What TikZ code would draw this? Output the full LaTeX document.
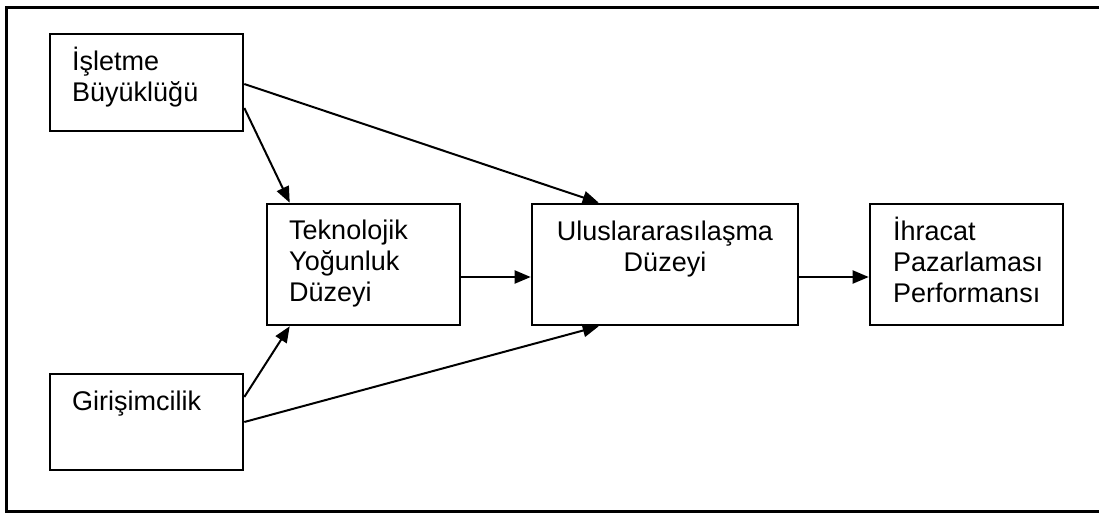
\documentclass[tikz,border=0pt]{standalone}
\usepackage{fontspec}
\setmainfont{Liberation Sans}
\usetikzlibrary{arrows.meta}
\begin{document}
\begin{tikzpicture}[x=1pt,y=-1pt,
  box/.style={draw, line width=2.6pt, inner sep=0pt, minimum width=193pt, minimum height=121pt},
  label/.style={inner sep=0pt, font=\fontsize{27}{31}\selectfont},
  link/.style={line width=2pt, -{Triangle[length=16pt,width=13pt]}}]
  \useasboundingbox (0,0) rectangle (1099,514);
  % outer frame (its right side lies beyond the page)
  \draw[line width=3pt] (6,7) rectangle (1120,511);

  % boxes
  \node[box, minimum height=97pt] (b1) at (146.5,82.5) {};
  \node[box] (b2) at (363.5,264.5) {};
  \node[box, minimum width=266pt] (b3) at (665,264.5) {};
  \node[box] (b4) at (966.5,264.5) {};
  \node[box, minimum height=96pt] (b5) at (146.5,422) {};

  % texts
  \node[label, anchor=base west] (t1) at (72,70)
    {\begin{tabular}[t]{@{}l@{}}İşletme\\Büyüklüğü\end{tabular}};
  \node[label, anchor=base west] (t2) at (289,239)
    {\begin{tabular}[t]{@{}l@{}}Teknolojik\\Yoğunluk\\Düzeyi\end{tabular}};
  \node[label, anchor=base] (t3) at (665,240)
    {\begin{tabular}[t]{@{}c@{}}Uluslararasılaşma\\Düzeyi\end{tabular}};
  \node[label, anchor=base west] (t4) at (893,240)
    {\begin{tabular}[t]{@{}l@{}}İhracat\\Pazarlaması\\Performansı\end{tabular}};
  \node[label, anchor=base west] (t5) at (72,410) {Girişimcilik};

  % connectors (yshift is in page direction: negative moves down)
  \draw[link] ([yshift=-1.5pt]b1.east) -- ([xshift=68pt]b3.north west);
  \draw[link] ([yshift=-25.5pt]b1.east) -- ([xshift=24pt]b2.north west);
  \draw[link] ([yshift=25pt]b5.east) -- ([xshift=24pt]b2.south west);
  \draw[link] (b5.east) -- ([xshift=68pt]b3.south west);
  \draw[link] ([yshift=-12.5pt]b2.east) -- ([yshift=-12.5pt]b3.west);
  \draw[link] ([yshift=-12.5pt]b3.east) -- ([yshift=-12.5pt]b4.west);
\end{tikzpicture}
\end{document}
